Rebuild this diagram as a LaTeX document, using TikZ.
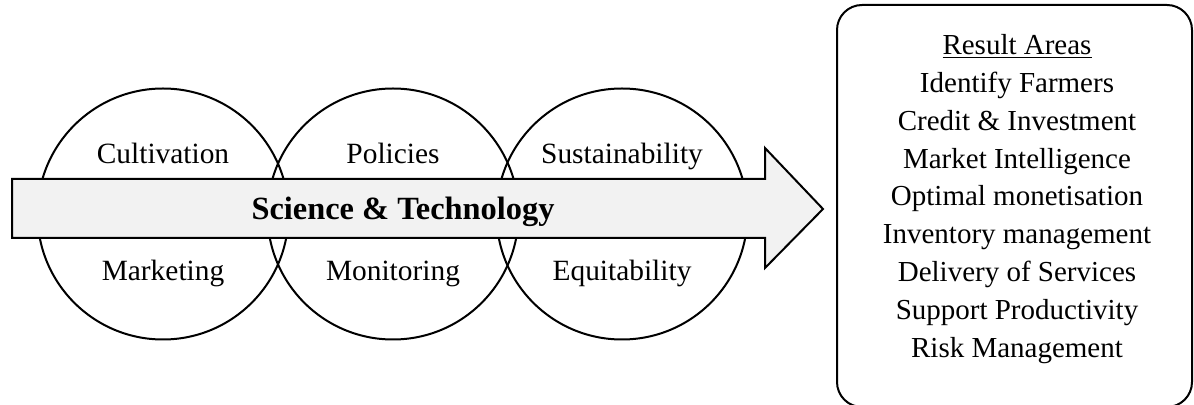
\documentclass[tikz,border=0pt]{standalone}
\usepackage{fontspec}
\setmainfont{Liberation Serif}
\begin{document}
\begin{tikzpicture}[x=0.5pt,y=-0.5pt,
  area/.style={circle, draw=black, line width=1pt, minimum size=125.5pt, inner sep=0pt},
  arealabel/.style={font=\fontsize{14.7}{17}\selectfont, inner sep=0pt, anchor=base},
  resultlist/.style={align=center, font=\fontsize{14.5}{18.95}\selectfont, inner sep=0pt}]
\useasboundingbox (0,0) rectangle (1194,405);

% circles
\node[area] (cult) at (163,214) {};
\node[area] (pol) at (393,214) {};
\node[area] (sust) at (622,214) {};

% labels
\node[arealabel] (cultlab) at (163,164) {Cultivation};
\node[arealabel] (marklab) at (163,281) {Marketing};
\node[arealabel] (pollab) at (393,164) {Policies};
\node[arealabel] (monlab) at (393,281) {Monitoring};
\node[arealabel] (sustlab) at (622,164) {Sustainability};
\node[arealabel] (equlab) at (622,281) {Equitability};

% arrow
\filldraw[draw=black, fill=black!5, line width=1pt] (12,179) -- (765,179) -- (765,148)
    -- (823,209) -- (765,268) -- (765,238) -- (12,238) -- cycle;
\node[font=\fontsize{16.2}{19}\selectfont\bfseries, anchor=base, inner sep=0pt] (scitech) at (403,220) {Science \& Technology};

% result areas
\draw[line width=1pt, rounded corners=12.5pt] (837,5) rectangle (1192,407);
\node[resultlist] (results) at (1017,199) {\underline{Result Areas}\\
    Identify Farmers\\
    Credit \& Investment\\
    Market Intelligence\\
    Optimal monetisation\\
    Inventory management\\
    Delivery of Services\\
    Support Productivity\\
    Risk Management};

\end{tikzpicture}
\end{document}
